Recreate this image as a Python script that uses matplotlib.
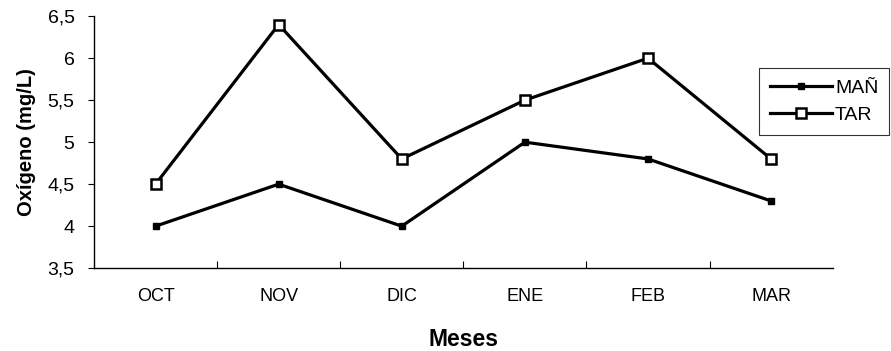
import numpy as np
import matplotlib.pyplot as plt
from matplotlib.ticker import FixedLocator

plt.rcParams['font.family'] = ['Liberation Sans', 'DejaVu Sans']

# oxígeno disuelto por mes, mañana y tarde
meses = ['OCT', 'NOV', 'DIC', 'ENE', 'FEB', 'MAR']
man = [4.0, 4.5, 4.0, 5.0, 4.8, 4.3]
tar = [4.5, 6.4, 4.8, 5.5, 6.0, 4.8]
yticks = [3.5, 4, 4.5, 5, 5.5, 6, 6.5]
ylabels = ['3,5', '4', '4,5', '5', '5,5', '6', '6,5']

fig = plt.figure(figsize=(8.91, 3.51), dpi=100)
ax = fig.add_axes([0.1055, 0.236, 0.829, 0.718])

x = np.arange(len(meses))
ax.plot(x, man, color='black', lw=2.3, marker='s', ms=4, mfc='black', mec='black', label='MAÑ')
ax.plot(x, tar, color='black', lw=2.3, marker='s', ms=7, mfc='white', mec='black', mew=1.8, label='TAR')

ax.set_xlim(-0.5, len(meses) - 0.5)
ax.set_ylim(3.5, 6.5)
ax.set_xticks(x)
ax.set_xticklabels(meses, fontsize=13)
ax.xaxis.set_minor_locator(FixedLocator(x[:-1] + 0.5))
ax.tick_params(axis='x', which='major', length=0, pad=14)
ax.tick_params(axis='x', which='minor', direction='in', length=5, width=0.8)
ax.set_yticks(yticks)
ax.set_yticklabels(ylabels, fontsize=14)
ax.tick_params(axis='y', direction='out', length=4, width=0.8, pad=10)

for s in ['top', 'right']:
    ax.spines[s].set_visible(False)
for s in ['left', 'bottom']:
    ax.spines[s].set_linewidth(1.0)

ax.set_ylabel('Oxígeno (mg/L)', fontsize=14.5, fontweight='bold', labelpad=8)
ax.set_xlabel('Meses', fontsize=16.5, fontweight='bold', labelpad=17)

# leyenda recortada por el borde derecho
leg = fig.legend(loc='upper left', bbox_to_anchor=(0.852, 0.805), fontsize=14,
                 frameon=True, fancybox=False, edgecolor='black', handlelength=3.2,
                 handletextpad=0.15, borderpad=0.55, labelspacing=0.5, borderaxespad=0)
leg.get_frame().set_linewidth(0.8)

fig.savefig('out.png', dpi=100)
